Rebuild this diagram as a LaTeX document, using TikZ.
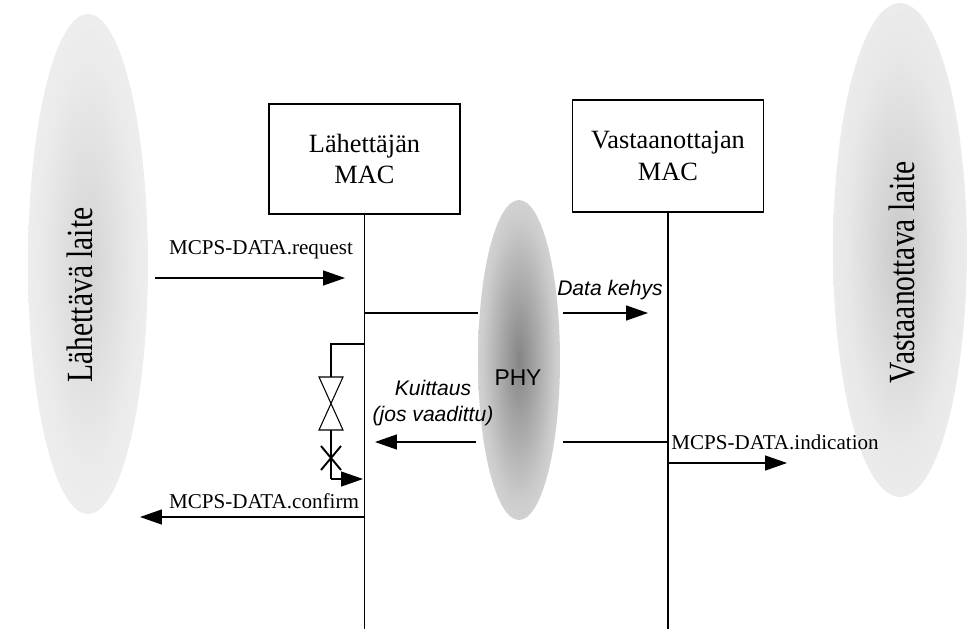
\documentclass[tikz,border=0pt]{standalone}
\usepackage{fontspec}
\setmainfont{Liberation Serif}
\setsansfont{Liberation Sans}
\usepackage{graphicx}
\usetikzlibrary{arrows.meta}
\definecolor{fogL}{gray}{0.83}
\definecolor{fogLm}{gray}{0.92}
\definecolor{fogR}{gray}{0.79}
\definecolor{fogRm}{gray}{0.91}
\definecolor{fogP}{gray}{0.52}
\definecolor{fogPm}{gray}{0.80}
\definecolor{fogEdge}{gray}{0.98}
\pgfdeclareradialshading{fogleft}{\pgfpoint{0bp}{0bp}}{color(0bp)=(fogL); color(20bp)=(fogLm); color(50bp)=(fogEdge)}
\pgfdeclareradialshading{fogright}{\pgfpoint{0bp}{0bp}}{color(0bp)=(fogR); color(20bp)=(fogRm); color(50bp)=(fogEdge)}
\pgfdeclareradialshading{fogphy}{\pgfpoint{0bp}{0bp}}{color(0bp)=(fogP); color(22bp)=(fogPm); color(50bp)=(white)}

\begin{document}
\begin{tikzpicture}[x=0.02cm, y=-0.02cm,
    line/.style={line width=0.8pt},
    msg/.style={line width=0.8pt, -{Triangle[length=4.4mm,width=3mm]}},
    mac/.style={draw, line width=0.9pt, minimum width=3.82cm, minimum height=2.2cm,
      align=center, font=\fontsize{15}{18}\selectfont},
    lbl/.style={font=\fontsize{12}{14}\selectfont, inner sep=0pt},
    ital/.style={font=\sffamily\itshape\fontsize{12}{15}\selectfont, align=center, inner sep=0pt},
    side/.style={rotate=90, font=\fontsize{21}{24}\selectfont, inner sep=0pt}]
  \useasboundingbox (0,0) rectangle (974,629);
  %% Fuzzy device and PHY clouds
  \shade[shading=fogleft]  (88,264)  ellipse (1.2cm and 5cm);
  \shade[shading=fogright] (900,250) ellipse (1.34cm and 4.94cm);
  \shade[shading=fogphy]   (519,360) ellipse (0.82cm and 3.2cm);
  \node[side] (sender) at (80,295) {\scalebox{0.8}[1]{Lähettävä laite}};
  \node[side] (receiver) at (902,272) {\scalebox{0.8}[1]{Vastaanottava laite}};
  \node[font=\sffamily\fontsize{13}{15}\selectfont] (phy) at (518,378) {PHY};
  %% MAC boxes and lifelines
  \node[mac] (sendMac) at (364.5,159) {Lähettäjän\\MAC};
  \node[mac, minimum height=2.24cm] (recvMac) at (668,156) {Vastaanottajan\\MAC};
  \coordinate (sendEnd) at (sendMac.south |- 0,629);
  \coordinate (recvEnd) at (recvMac.south |- 0,629);
  \draw[line] (sendMac.south) -- (sendEnd);
  \draw[line] (recvMac.south) -- (recvEnd);
  %% Request
  \node[lbl] (reqLbl) at (261,250) {MCPS-DATA.request};
  \coordinate (reqA) at (155,278);
  \coordinate (reqB) at (345,278);
  \draw[msg] (reqA) -- (reqB);
  %% Data frame through PHY
  \coordinate (dataA) at (365,313);
  \coordinate (dataB) at (478,313);
  \coordinate (dataC) at (563,313);
  \coordinate (dataD) at (648,313);
  \draw[line] (dataA) -- (dataB);
  \draw[msg] (dataC) -- (dataD);
  \node[ital] (dataLbl) at (610,290) {Data kehys};
  %% Acknowledgement back through PHY
  \coordinate (ackA) at (668,442);
  \coordinate (ackB) at (563,442);
  \coordinate (ackC) at (476,442);
  \coordinate (ackD) at (375,442);
  \draw[line] (ackA) -- (ackB);
  \draw[msg] (ackC) -- (ackD);
  \node[ital] (ackLbl) at (433,403) {Kuittaus\\(jos vaadittu)};
  %% Indication
  \node[lbl, anchor=west] (indLbl) at (671,442) {MCPS-DATA.indication};
  \coordinate (indA) at (668,463);
  \coordinate (indB) at (787,463);
  \draw[msg] (indA) -- (indB);
  %% Timer
  \coordinate (tmrA) at (365,344);
  \coordinate (tmrB) at (331,344);
  \coordinate (tmrC) at (331,377);
  \coordinate (tmrD) at (331,430);
  \coordinate (tmrE) at (331,479);
  \coordinate (tmrF) at (363,479);
  \draw[line] (tmrA) -- (tmrB) -- (tmrC);
  \draw[line width=0.6pt] (319,377) -- (343,377) -- (319,430) -- (343,430) -- cycle;
  \draw[line] (tmrD) -- (tmrE);
  \draw[msg] (tmrE) -- (tmrF);
  \draw[line width=1.1pt] (321,446) -- (341,470) (341,446) -- (321,470);
  %% Confirm
  \node[lbl] (cnfLbl) at (264,501) {MCPS-DATA.confirm};
  \coordinate (cnfA) at (365,517);
  \coordinate (cnfB) at (140,517);
  \draw[msg] (cnfA) -- (cnfB);
\end{tikzpicture}
\end{document}
